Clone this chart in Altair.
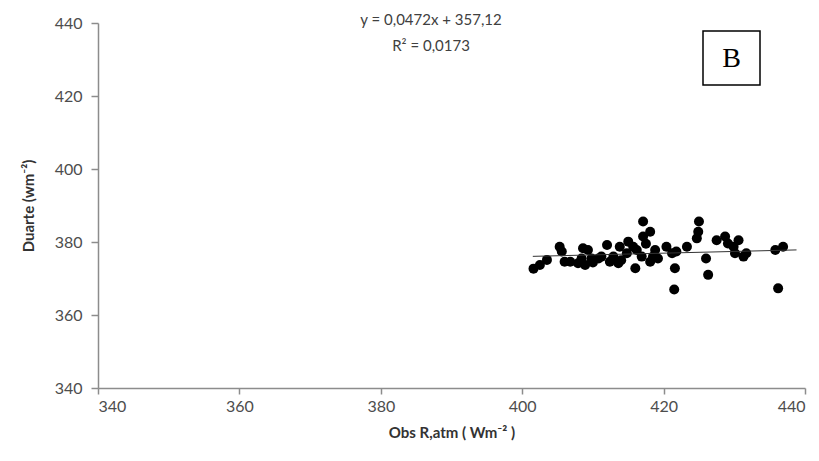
import altair as alt
import pandas as pd

obs_x = [401.6, 402.5, 403.5, 405.3, 405.6, 406.0, 406.8, 407.9, 408.4, 408.6,
         408.9, 409.3, 409.8, 410.0, 410.8, 411.2, 412.0, 412.4, 412.9, 413.6,
         413.8, 414.0, 414.8, 415.0, 415.7, 416.0, 416.2, 416.9, 417.1, 417.1,
         417.5, 418.1, 418.1, 418.5, 418.8, 419.2, 420.4, 421.2, 421.8, 421.6,
         421.5, 423.3, 424.7, 424.9, 425.0, 426.0, 426.3, 427.5, 428.7, 429.1,
         429.9, 430.6, 430.1, 431.3, 431.7, 435.8, 436.9, 436.2]
duarte_y = [372.7, 373.7, 375.1, 378.7, 377.4, 374.6, 374.6, 374.2, 375.5, 378.3,
            373.7, 377.8, 375.5, 374.4, 375.5, 376.0, 379.2, 374.6, 376.0, 374.2,
            378.7, 375.0, 376.9, 380.1, 378.7, 372.8, 377.8, 376.0, 385.6, 381.5,
            379.5, 382.8, 374.6, 376.0, 377.8, 375.5, 378.7, 376.9, 377.4, 372.8,
            367.0, 378.7, 381.0, 382.8, 385.6, 375.5, 371.0, 380.5, 381.5, 379.6,
            378.7, 380.5, 376.9, 376.0, 376.9, 377.8, 378.7, 367.3]

trend_x = [401.5, 438.8]
trend_y = [376.07, 377.83]

equation_lines = ["y = 0,0472x + 357,12", "R² = 0,0173"]
panel_label = "B"

x_ticks = [340, 360, 380, 400, 420, 440]
y_ticks = [340, 360, 380, 400, 420, 440]

pts = pd.DataFrame({"x": obs_x, "y": duarte_y})
trend = pd.DataFrame({"x": trend_x, "y": trend_y})

FONT = "Lato"
AXIS_COLOR = "#8c8c8c"
LABEL_COLOR = "#4d4d4d"

xscale = alt.Scale(domain=[340, 440], nice=False, zero=False)
yscale = alt.Scale(domain=[340, 440], nice=False, zero=False)

xaxis = alt.Axis(values=x_ticks, title="Obs R,atm ( Wm⁻² )", grid=False,
                 domainColor=AXIS_COLOR, domainWidth=1.5, tickColor=AXIS_COLOR,
                 tickWidth=1.5, tickSize=6, labelFont=FONT, labelFontSize=16,
                 labelColor=LABEL_COLOR, labelPadding=4, titleFont=FONT,
                 titleFontSize=15, titleFontWeight="bold", titleColor="#333333",
                 titlePadding=11)
yaxis = alt.Axis(values=y_ticks, title="Duarte (wm⁻²)", grid=False,
                 domainColor=AXIS_COLOR, domainWidth=1.5, tickColor=AXIS_COLOR,
                 tickWidth=1.5, tickSize=7, labelFont=FONT, labelFontSize=16,
                 labelColor=LABEL_COLOR, labelPadding=9, titleFont=FONT,
                 titleFontSize=15, titleFontWeight="bold", titleColor="#333333",
                 titlePadding=18)

points = alt.Chart(pts).mark_circle(size=100, color="black", opacity=1).encode(
    x=alt.X("x:Q", scale=xscale, axis=xaxis),
    y=alt.Y("y:Q", scale=yscale, axis=yaxis),
)

line = alt.Chart(trend).mark_line(color="#333333", strokeWidth=1).encode(
    x=alt.X("x:Q", scale=xscale),
    y=alt.Y("y:Q", scale=yscale),
)

eq1 = alt.Chart(pd.DataFrame({"t": [equation_lines[0]]})).mark_text(
    font=FONT, fontSize=15, color="#404040", align="center", baseline="middle"
).encode(x=alt.value(333), y=alt.value(-3), text="t:N")

eq2 = alt.Chart(pd.DataFrame({"t": [equation_lines[1]]})).mark_text(
    font=FONT, fontSize=15, color="#404040", align="center", baseline="middle"
).encode(x=alt.value(333), y=alt.value(23), text="t:N")

box = alt.Chart(pd.DataFrame({"l": [panel_label]})).mark_rect(
    fill="white", stroke="black", strokeWidth=1.5).encode(
    x=alt.value(605), x2=alt.value(662), y=alt.value(8), y2=alt.value(62))

btxt = alt.Chart(pd.DataFrame({"l": [panel_label]})).mark_text(
    font="Liberation Serif", fontSize=28, color="black", align="center",
    baseline="middle").encode(x=alt.value(633.5), y=alt.value(36), text="l:N")

chart = alt.layer(points, line, eq1, eq2, box, btxt).properties(
    width=707, height=365,
    autosize=alt.AutoSizeParams(type="none"),
    padding={"left": 90, "top": 15, "right": 6, "bottom": 65},
).configure_view(stroke=None)

chart.save("out.html", embed_options={"renderer": "svg", "actions": False})
